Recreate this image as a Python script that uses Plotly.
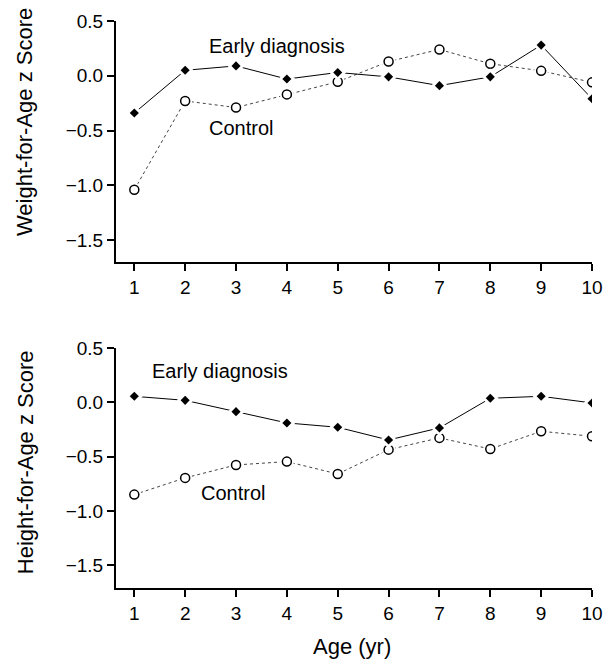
import plotly.graph_objects as go

ages = [1, 2, 3, 4, 5, 6, 7, 8, 9, 10]

weight_early = [-0.34, 0.05, 0.09, -0.03, 0.03, -0.01, -0.09, -0.01, 0.28, -0.21]
weight_control = [-1.04, -0.23, -0.29, -0.17, -0.055, 0.13, 0.24, 0.11, 0.045, -0.06]

height_early = [0.055, 0.018, -0.086, -0.19, -0.23, -0.347, -0.236, 0.037, 0.055, -0.006]
height_control = [-0.85, -0.696, -0.577, -0.546, -0.66, -0.436, -0.328, -0.43, -0.267, -0.313]

y_ticks = [0.5, 0.0, -0.5, -1.0, -1.5]
x_ticks = ages

FONT = "Liberation Sans, Arial, sans-serif"

fig = go.Figure()


def add_series(x, y, xa, ya, kind):
    if kind == "early":
        line = dict(color="black", width=1)
        halo = dict(symbol="diamond", size=13, color="white")
        mk = dict(symbol="diamond", size=7, color="black")
    else:
        line = dict(color="#444444", width=1, dash="dot")
        halo = dict(symbol="circle", size=14, color="white")
        mk = dict(symbol="circle", size=9, color="white",
                  line=dict(color="black", width=1.5))
    fig.add_trace(go.Scatter(x=x, y=y, mode="lines", line=line,
                             xaxis=xa, yaxis=ya, showlegend=False, hoverinfo="skip"))
    fig.add_trace(go.Scatter(x=x, y=y, mode="markers", marker=halo,
                             xaxis=xa, yaxis=ya, showlegend=False, hoverinfo="skip"))
    fig.add_trace(go.Scatter(x=x, y=y, mode="markers", marker=mk,
                             xaxis=xa, yaxis=ya, showlegend=False))


add_series(ages, weight_control, "x", "y", "control")
add_series(ages, weight_early, "x", "y", "early")
add_series(ages, height_control, "x2", "y2", "control")
add_series(ages, height_early, "x2", "y2", "early")

axis_common = dict(
    showgrid=False, zeroline=False, showline=True, linecolor="black", linewidth=2,
    ticks="outside", ticklen=7, tickwidth=2, tickcolor="black", automargin=False,
    ticklabeloverflow="allow",
    tickfont=dict(family=FONT, size=19, color="black"),
)

xr = [0.64, 10.0]
ann_font = dict(family=FONT, size=20, color="black")
title_font = dict(family=FONT, size=22, color="black")

fig.update_layout(
    width=609, height=661,
    margin=dict(l=116, r=17, t=21, b=73),
    plot_bgcolor="white", paper_bgcolor="white",
    font=dict(family=FONT, color="black"),
    xaxis=dict(domain=[0, 1], range=xr, anchor="y", tickvals=x_ticks, **axis_common),
    yaxis=dict(domain=[0.575, 1.0], range=[-1.70, 0.5], anchor="x",
               tickvals=y_ticks, tickformat=".1f", **axis_common),
    xaxis2=dict(domain=[0, 1], range=xr, anchor="y2", tickvals=x_ticks, **axis_common),
    yaxis2=dict(domain=[0.0, 0.4233], range=[-1.71, 0.5], anchor="x2",
                tickvals=y_ticks, tickformat=".1f", **axis_common),
    annotations=[
        dict(text="Early diagnosis", x=2.43, y=0.274, xref="x", yref="y",
             xanchor="left", yanchor="middle", showarrow=False, font=ann_font),
        dict(text="Control", x=2.435, y=-0.477, xref="x", yref="y",
             xanchor="left", yanchor="middle", showarrow=False, font=ann_font),
        dict(text="Early diagnosis", x=1.314, y=0.284, xref="x2", yref="y2",
             xanchor="left", yanchor="middle", showarrow=False, font=ann_font),
        dict(text="Control", x=2.278, y=-0.834, xref="x2", yref="y2",
             xanchor="left", yanchor="middle", showarrow=False, font=ann_font),
        dict(text="Weight-for-Age z Score", x=-0.191, y=0.822, xref="paper", yref="paper",
             xanchor="center", yanchor="middle", textangle=-90, showarrow=False, font=title_font),
        dict(text="Height-for-Age z Score", x=-0.191, y=0.222, xref="paper", yref="paper",
             xanchor="center", yanchor="middle", textangle=-90, showarrow=False, font=title_font),
        dict(text="Age (yr)", x=0.496, y=-0.104, xref="paper", yref="paper",
             xanchor="center", yanchor="middle", showarrow=False, font=title_font),
    ],
)

fig.write_html("out.html",
               config={"displayModeBar": False},
               post_script="document.body.style.margin='0';document.body.style.overflow='hidden';")
